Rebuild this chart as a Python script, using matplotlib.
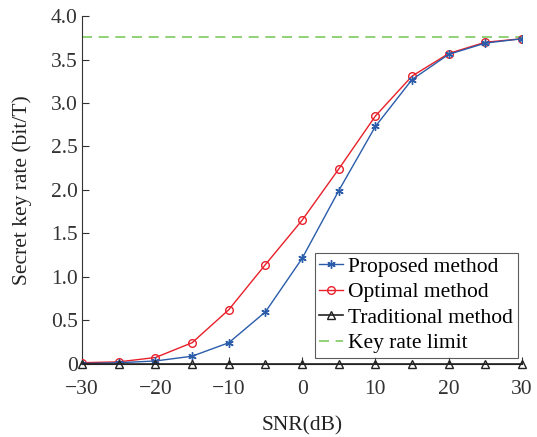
import matplotlib.pyplot as plt
from matplotlib.ticker import FuncFormatter

snr = [-30, -25, -20, -15, -10, -5, 0, 5, 10, 15, 20, 25, 30]
proposed = [0.0, 0.01, 0.03, 0.085, 0.24, 0.595, 1.21, 1.99, 2.73, 3.27, 3.56, 3.69, 3.74]
optimal = [0.01, 0.02, 0.07, 0.24, 0.62, 1.14, 1.65, 2.24, 2.85, 3.31, 3.57, 3.70, 3.74]
traditional = [0, 0, 0, 0, 0, 0, 0, 0, 0, 0, 0, 0, 0]
limit = 3.76

plt.rcParams['font.family'] = ['Liberation Serif', 'DejaVu Serif']

fig = plt.figure(figsize=(5.37, 4.37), dpi=100)
ax = fig.add_axes([0.153, 0.168, 0.819, 0.795])

ax.plot(snr, proposed, color='#2a5caa', marker=(6, 2, 0), markersize=6,
        linewidth=1.0, label='Proposed method', zorder=4)
ax.plot(snr, optimal, color='#e8202a', marker='o', markersize=5.5, markerfacecolor='none',
        linewidth=1.0, label='Optimal method', zorder=3)
ax.plot(snr, traditional, color='#222222', marker='^', markersize=5.5, markerfacecolor='none',
        linewidth=1.2, label='Traditional method', zorder=5, clip_on=False)
ax.axhline(limit, color='#7dc95e', linestyle=(0, (6, 4)), linewidth=1.2, label='Key rate limit')

ax.set_xlim(-30, 30)
ax.set_ylim(0, 4.0)
ax.set_xticks(range(-30, 31, 10))
ax.set_yticks([0, 0.5, 1.0, 1.5, 2.0, 2.5, 3.0, 3.5, 4.0])
ax.yaxis.set_major_formatter(FuncFormatter(lambda v, p: '0' if v == 0 else '%.1f' % v))
ax.xaxis.set_major_formatter(FuncFormatter(lambda v, p: ('\u2212%d' % -v) if v < 0 else '%d' % v))

for s in ['top', 'right']:
    ax.spines[s].set_visible(False)
ax.spines['left'].set_color('#333333')
ax.spines['bottom'].set_color('#222222')
ax.tick_params(direction='in', labelsize=15.5, length=5, colors='#333333')
ax.tick_params(axis='x', pad=12)
ax.tick_params(axis='y', pad=3)

ax.set_xlabel('SNR(dB)', fontsize=15.5, labelpad=12, color='#222222')
ax.set_ylabel('Secret key rate (bit/T)', fontsize=15.5, labelpad=14, color='#222222')

leg = ax.legend(loc='lower right', bbox_to_anchor=(0.99, 0.017), fontsize=15.5, frameon=True,
                fancybox=False, edgecolor='#333333', handlelength=1.1, handletextpad=0.25,
                borderpad=0.2, labelspacing=0.25, borderaxespad=0)
leg.get_frame().set_linewidth(0.8)

fig.savefig('out.png', dpi=100)
